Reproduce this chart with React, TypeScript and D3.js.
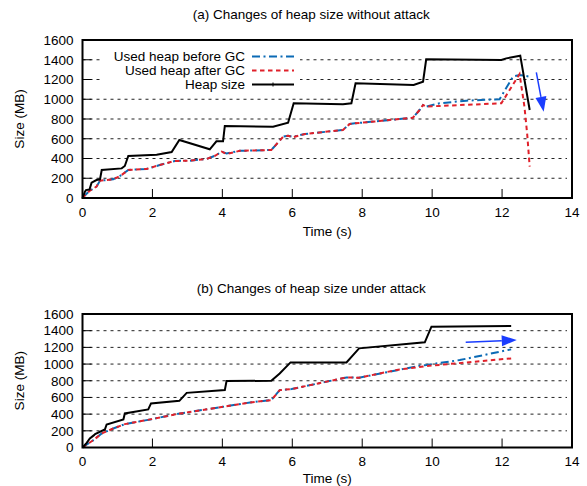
import * as d3 from "d3";

type Pt = [number, number];

// (a) without attack — [time s, MB]
const heapA: Pt[] = [
  [0, 0], [0.07, 64], [0.1, 80], [0.2, 85], [0.26, 155], [0.4, 182], [0.5, 189],
  [0.55, 283], [1.12, 300], [1.21, 324], [1.31, 425], [2.12, 439], [2.55, 466],
  [2.77, 587], [3.64, 493], [3.83, 574], [4.02, 574], [4.07, 729], [5.45, 722],
  [5.88, 763], [6.04, 959], [7.45, 949], [7.69, 959], [7.81, 1161], [9.47, 1145],
  [9.74, 1178], [9.83, 1404], [11.98, 1397], [12.12, 1414], [12.52, 1441], [12.79, 891],
];
const beforeA: Pt[] = [
  [0, 0], [0.05, 20], [0.21, 74], [0.4, 115], [0.5, 175], [0.88, 189], [1.12, 233],
  [1.31, 284], [1.83, 294], [2.21, 334], [2.64, 375], [3.07, 378], [3.55, 395],
  [3.79, 428], [3.98, 469], [4.12, 452], [4.5, 478], [5.4, 486], [5.74, 621],
  [5.88, 631], [6.02, 620], [6.36, 648], [7.45, 689], [7.64, 749], [7.79, 756],
  [8.5, 780], [9.45, 813], [9.64, 891], [9.74, 942], [9.83, 925], [10.21, 959],
  [10.98, 986], [11.93, 1000], [12.31, 1229], [12.5, 1246], [12.79, 1229],
];
const afterA: Pt[] = [
  [0, 0], [0.05, 20], [0.21, 74], [0.4, 115], [0.5, 175], [0.88, 189], [1.12, 233],
  [1.31, 284], [1.83, 294], [2.21, 334], [2.64, 375], [3.07, 378], [3.55, 395],
  [3.79, 428], [3.98, 469], [4.12, 446], [4.5, 478], [5.4, 486], [5.74, 621],
  [5.88, 631], [6.02, 615], [6.36, 648], [7.45, 689], [7.64, 749], [7.79, 756],
  [8.5, 780], [9.45, 813], [9.64, 891], [9.74, 942], [9.83, 925], [10.2, 932],
  [11.98, 959], [12.5, 1256], [12.64, 925], [12.72, 640], [12.79, 317],
];

// (b) under attack
const heapB: Pt[] = [
  [0, 0], [0.12, 55], [0.21, 108], [0.33, 148], [0.36, 160], [0.64, 216], [0.69, 276],
  [1.17, 336], [1.21, 408], [1.88, 456], [1.96, 528], [2.77, 559], [2.98, 655],
  [4.07, 688], [4.12, 796], [5.4, 800], [5.64, 888], [5.95, 1020], [7.55, 1020],
  [7.91, 1188], [9.79, 1260], [9.98, 1448], [12.26, 1456],
];
const beforeB: Pt[] = [
  [0, 0], [0.31, 88], [0.55, 168], [0.88, 228], [1.21, 280], [1.98, 340], [2.79, 408],
  [4.02, 488], [4.79, 540], [5.4, 568], [5.64, 688], [5.98, 700], [7.55, 840],
  [7.91, 836], [9.64, 980], [9.84, 990], [10.79, 1048], [12.26, 1176],
];
const afterB: Pt[] = [
  [0, 0], [0.31, 88], [0.55, 168], [0.88, 228], [1.21, 280], [1.98, 340], [2.79, 408],
  [4.02, 488], [4.79, 540], [5.4, 568], [5.64, 688], [5.98, 700], [7.55, 840],
  [7.91, 836], [9.07, 936], [9.84, 976], [12.26, 1068],
];

// arrows [from, to] in data units
const arrowA: Pt[] = [[12.98, 1273], [13.19, 874]];
const arrowB: Pt[] = [[10.96, 1260], [12.42, 1288]];

const legendLabels = ["Used heap before GC", "Used heap after GC", "Heap size"];
const xTicks = [0, 2, 4, 6, 8, 10, 12, 14];
const yTicks = [0, 200, 400, 600, 800, 1000, 1200, 1400, 1600];

const BLUE = "#0b6ab5";
const RED = "#e0202a";
const ARROW = "#1a3dff";
const FONT = "'Liberation Sans', Arial, sans-serif";
const FS = 13.5;

const styles = [
  { color: BLUE, dash: "8,3.5,2,3.5" },
  { color: RED, dash: "4.5,3.5" },
  { color: "#000", dash: "" },
];

const L = 82.5;
const R = 572;

function Panel({ title, top, bottom, series, arrow, legend, xlabOff }: {
  title: string; top: number; bottom: number; series: Pt[][]; arrow: Pt[]; legend: boolean; xlabOff: number;
}) {
  const x = d3.scaleLinear().domain([0, 14]).range([L, R]);
  const y = d3.scaleLinear().domain([0, 1600]).range([bottom, top]);
  const line = d3.line<Pt>().x((d) => x(d[0])).y((d) => y(d[1]));

  const [a0, a1] = arrow;
  const ax0 = x(a0[0]), ay0 = y(a0[1]), ax1 = x(a1[0]), ay1 = y(a1[1]);
  const ang = Math.atan2(ay1 - ay0, ax1 - ax0);
  const hl = 15, hw = 5.5;
  const bx = ax1 - hl * Math.cos(ang), by = ay1 - hl * Math.sin(ang);
  const head = [
    [ax1, ay1],
    [bx + hw * Math.sin(ang), by - hw * Math.cos(ang)],
    [bx - hw * Math.sin(ang), by + hw * Math.cos(ang)],
  ].map((p) => p.join(",")).join(" ");

  return (
    <g fontFamily={FONT} fontSize={FS} fill="#000">
      <text x={(L + R) / 2 - 16} y={top - 21.5} textAnchor="middle">{title}</text>
      {yTicks.filter((t) => t > 0 && t < 1600).map((t) => (
        <line key={"g" + t} x1={L} x2={R - 5} y1={y(t)} y2={y(t)} stroke="#222" strokeWidth={1} strokeDasharray="3,4" />
      ))}
      {yTicks.map((t) => (
        <g key={"y" + t}>
          <line x1={L} x2={L + 9} y1={y(t)} y2={y(t)} stroke="#000" strokeWidth={1} />
          <text x={L - 9} y={y(t) + 4.8} textAnchor="end">{t}</text>
        </g>
      ))}
      {xTicks.map((t) => (
        <g key={"x" + t}>
          <line x1={x(t)} x2={x(t)} y1={bottom} y2={bottom - 9} stroke="#000" strokeWidth={1} />
          <text x={x(t)} y={bottom + 18.8} textAnchor="middle">{t}</text>
        </g>
      ))}
      <text x={(L + R) / 2} y={bottom + xlabOff} textAnchor="middle">Time (s)</text>
      <text transform={`translate(24,${(top + bottom) / 2}) rotate(-90)`} textAnchor="middle">Size (MB)</text>
      {series.map((s, i) => (
        <path key={"s" + i} d={line(s) ?? ""} fill="none" stroke={styles[i].color} strokeWidth={2}
          strokeDasharray={styles[i].dash || undefined} strokeLinejoin="miter" />
      ))}
      {legend && legendLabels.map((lab, i) => {
        const ly = top + 16.5 + i * 14;
        return (
          <g key={"l" + i}>
            <rect x={100} y={ly - 7} width={200} height={14} fill="#fff" />
            <text x={245} y={ly + 4.8} textAnchor="end">{lab}</text>
            <line x1={252} x2={294} y1={ly} y2={ly} stroke={styles[i].color} strokeWidth={2}
              strokeDasharray={styles[i].dash || undefined} />
            {i === 2 && <line x1={273} x2={273} y1={ly - 2} y2={ly + 2} stroke="#000" strokeWidth={1} />}
          </g>
        );
      })}
      <line x1={ax0} y1={ay0} x2={bx} y2={by} stroke={ARROW} strokeWidth={1.5} />
      <polygon points={head} fill={ARROW} />
      <rect x={L} y={top} width={R - L} height={bottom - top} fill="none" stroke="#000" strokeWidth={2} />
    </g>
  );
}

export default function App() {
  return (
    <svg width={587} height={486} style={{ position: "absolute", left: 0, top: 0, background: "#fff" }}>
      <Panel title="(a) Changes of heap size without attack" top={40} bottom={198}
        series={[beforeA, afterA, heapA]} arrow={arrowA} legend={true} xlabOff={38} />
      <Panel title="(b) Changes of heap size under attack" top={314} bottom={447.5}
        series={[beforeB, afterB, heapB]} arrow={arrowB} legend={false} xlabOff={35.5} />
    </svg>
  );
}
